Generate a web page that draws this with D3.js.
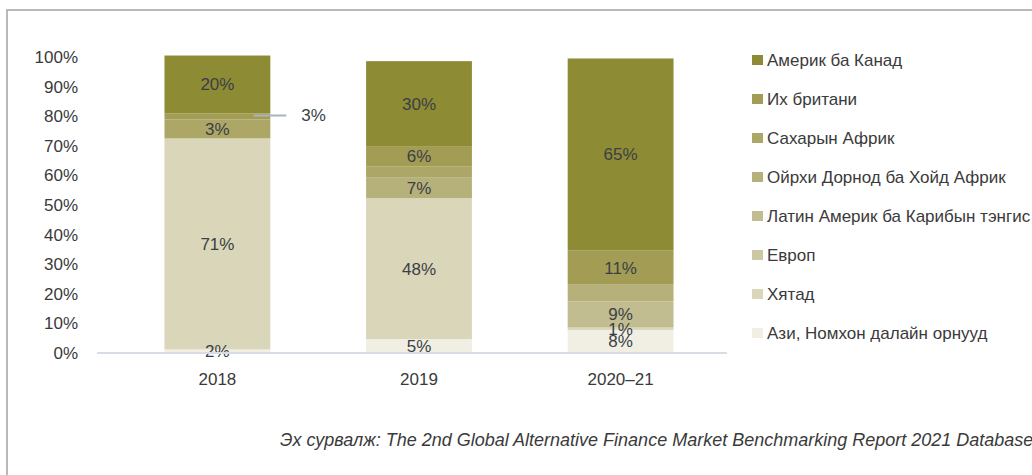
<!DOCTYPE html>
<html>
<head>
<meta charset="utf-8">
<script src="https://cdn.jsdelivr.net/npm/d3@7"></script>
<style>
  body { margin: 0; background: #fff; }
  svg text { font-family: "Liberation Sans", Arial, sans-serif; }
</style>
</head>
<body>
<svg width="1032" height="475"></svg>
<script>
// years on the x axis
var years = ["2018", "2019", "2020–21"];

// regions, bottom of the stack first
var regions = [
  "Ази, Номхон далайн орнууд",
  "Хятад",
  "Европ",
  "Латин Америк ба Карибын тэнгис",
  "Ойрхи Дорнод ба Хойд Африк",
  "Сахарын Африк",
  "Их британи",
  "Америк ба Канад"
];
var colors = ["#f1efe4", "#d9d6b9", "#ccc8a4", "#c2bd90", "#b6b17b", "#aca767", "#a39c55", "#8e8b35"];

// share of each region (%)
var asia   = [1.2, 4.7, 7.8];
var china  = [71.3, 47.6, 0.8];
var europe = [0, 0, 0];
var latam  = [0, 0, 8.8];
var mena   = [0, 7.1, 5.7];
var ssa    = [6.4, 3.7, 0];
var uk     = [2.0, 6.8, 11.5];
var usca   = [19.6, 28.7, 64.9];

// the labels printed on the bars
var asiaLbl   = ["2%", "5%", "8%"];
var chinaLbl  = ["71%", "48%", "1%"];
var europeLbl = ["", "", ""];
var latamLbl  = ["", "", "9%"];
var menaLbl   = ["", "7%", ""];
var ssaLbl    = ["3%", "", ""];
var ukLbl     = ["", "6%", "11%"];
var uscaLbl   = ["20%", "30%", "65%"];
var ukCallout = ["3%", "", ""];

var yTicks = [0, 10, 20, 30, 40, 50, 60, 70, 80, 90, 100];
var source = "Эх сурвалж: The 2nd Global Alternative Finance Market Benchmarking Report 2021 Database";

var vals = [asia, china, europe, latam, mena, ssa, uk, usca];
var lbls = [asiaLbl, chinaLbl, europeLbl, latamLbl, menaLbl, ssaLbl, ukLbl, uscaLbl];

var rows = years.map(function (y, i) {
  var r = { year: y };
  regions.forEach(function (k, j) { r[k] = vals[j][i]; });
  return r;
});

var svg = d3.select("svg");

// frame
svg.append("path")
  .attr("d", "M7,475V10H1032")
  .attr("fill", "none")
  .attr("stroke", "#a3a3a3")
  .attr("stroke-width", 1.5);

var x = d3.scaleBand().domain(years).range([104, 734]).paddingInner(0.475).paddingOuter(0.3);
var y = d3.scaleLinear().domain([0, 100]).range([353, 57]);

var stack = d3.stack().keys(regions);
var layers = stack(rows);

var g = svg.append("g");

g.selectAll("g.layer")
  .data(layers)
  .enter()
  .append("g")
  .attr("class", "layer")
  .attr("fill", function (d, i) { return colors[i]; })
  .selectAll("rect")
  .data(function (d) { return d; })
  .enter()
  .append("rect")
  .attr("x", function (d) { return x(d.data.year); })
  .attr("width", x.bandwidth())
  .attr("y", function (d) { return y(d[1]); })
  .attr("height", function (d) { return y(d[0]) - y(d[1]); });

// baseline
svg.append("line")
  .attr("x1", 97).attr("x2", 727)
  .attr("y1", y(0)).attr("y2", y(0))
  .attr("stroke", "#d8dce6")
  .attr("stroke-width", 2);

// y axis labels
var yAxis = d3.axisLeft(y).tickValues(yTicks).tickFormat(function (d) { return d + "%"; }).tickSize(0).tickPadding(0);
svg.append("g")
  .attr("transform", "translate(78,0)")
  .call(yAxis)
  .call(function (s) { s.select(".domain").remove(); })
  .selectAll("text")
  .style("font-family", null)
  .attr("font-size", 17)
  .attr("fill", "#3a3a3a");

// x axis labels
var xAxis = d3.axisBottom(x).tickSize(0).tickPadding(0);
svg.append("g")
  .attr("transform", "translate(0,373)")
  .call(xAxis)
  .call(function (s) { s.select(".domain").remove(); })
  .selectAll("text")
  .style("font-family", null)
  .attr("font-size", 17)
  .attr("fill", "#3a3a3a");

// value labels
layers.forEach(function (layer, j) {
  layer.forEach(function (d, i) {
    var t = lbls[j][i];
    if (!t) return;
    g.append("text")
      .attr("x", x(d.data.year) + x.bandwidth() / 2)
      .attr("y", (y(d[0]) + y(d[1])) / 2)
      .attr("dy", "0.35em")
      .attr("text-anchor", "middle")
      .attr("font-size", 17)
      .attr("fill", "#3b3f45")
      .text(t);
  });
});

// callout for the thin UK slice
var ukLayer = layers[regions.indexOf("Их британи")];
ukLayer.forEach(function (d, i) {
  var t = ukCallout[i];
  if (!t) return;
  var cy = (y(d[0]) + y(d[1])) / 2 - 1;
  var xr = x(d.data.year) + x.bandwidth();
  g.append("line")
    .attr("x1", xr - 17).attr("x2", xr + 16)
    .attr("y1", cy).attr("y2", cy)
    .attr("stroke", "#a9b3c4")
    .attr("stroke-width", 2);
  g.append("text")
    .attr("x", xr + 31)
    .attr("y", cy)
    .attr("dy", "0.35em")
    .attr("font-size", 17)
    .attr("fill", "#3b3f45")
    .text(t);
});

// legend, top of the stack first
var legendItems = regions.map(function (r, i) { return { name: r, color: colors[i] }; }).reverse();
var legend = svg.append("g")
  .selectAll("g")
  .data(legendItems)
  .enter()
  .append("g")
  .attr("transform", function (d, i) { return "translate(752," + (60 + i * 39) + ")"; });

legend.append("rect")
  .attr("x", 0).attr("y", -5)
  .attr("width", 11).attr("height", 10)
  .attr("fill", function (d) { return d.color; });

legend.append("text")
  .attr("x", 15)
  .attr("dy", "0.35em")
  .attr("font-size", 17)
  .attr("fill", "#3a3a3a")
  .text(function (d) { return d.name; });

// source note
svg.append("text")
  .attr("x", 280)
  .attr("y", 446)
  .attr("font-size", 18)
  .attr("font-style", "italic")
  .attr("fill", "#3a3a3a")
  .text(source);
</script>
</body>
</html>
